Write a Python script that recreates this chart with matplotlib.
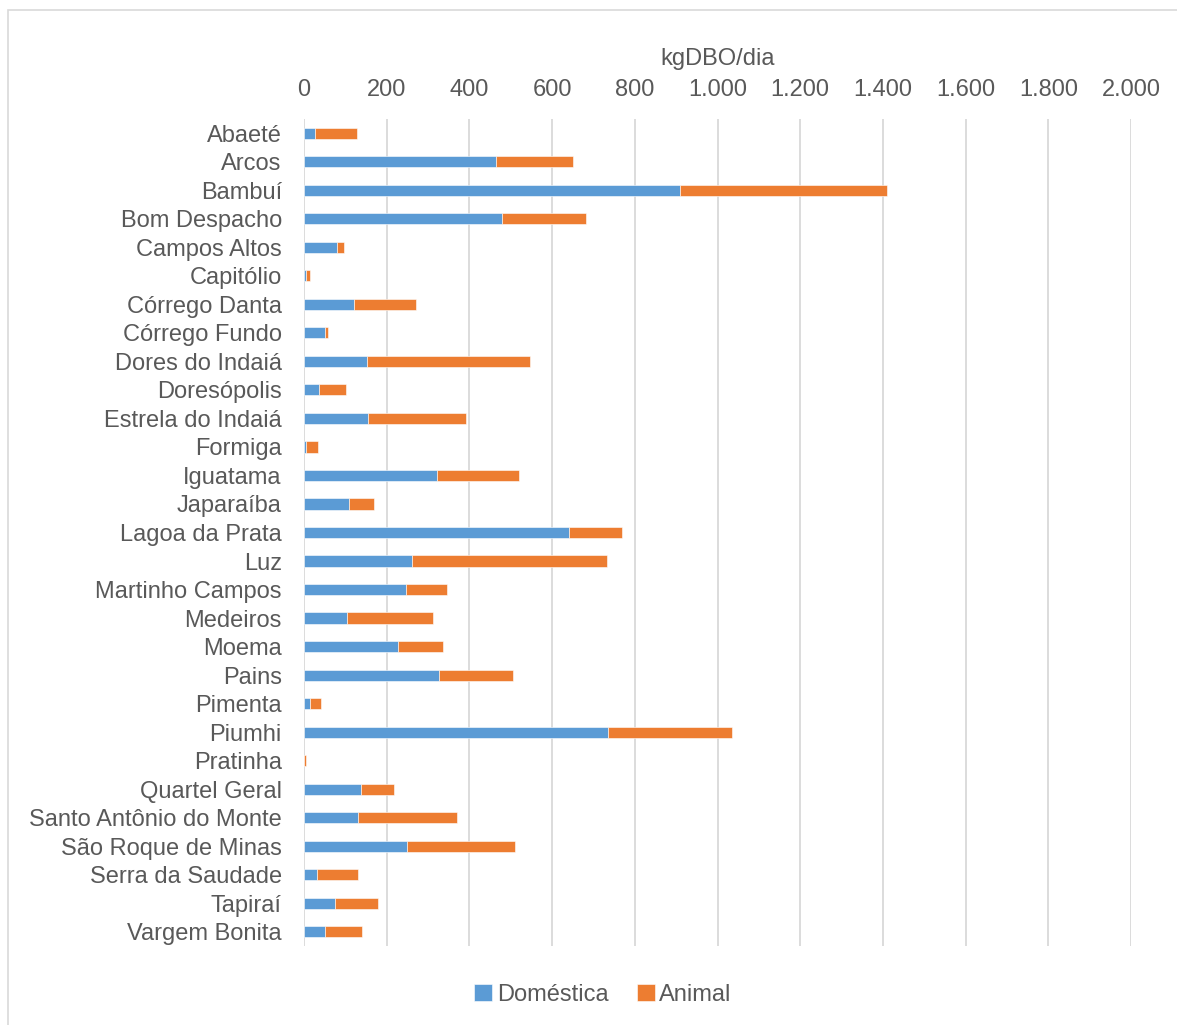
import numpy as np
import matplotlib.pyplot as plt
from matplotlib.patches import Rectangle

plt.rcParams['font.family'] = ['Liberation Sans', 'DejaVu Sans']

municipios = ['Abaeté', 'Arcos', 'Bambuí', 'Bom Despacho', 'Campos Altos',
              'Capitólio', 'Córrego Danta', 'Córrego Fundo', 'Dores do Indaiá',
              'Doresópolis', 'Estrela do Indaiá', 'Formiga', 'Iguatama',
              'Japaraíba', 'Lagoa da Prata', 'Luz', 'Martinho Campos',
              'Medeiros', 'Moema', 'Pains', 'Pimenta', 'Piumhi', 'Pratinha',
              'Quartel Geral', 'Santo Antônio do Monte', 'São Roque de Minas',
              'Serra da Saudade', 'Tapiraí', 'Vargem Bonita']

# carga de DBO (kg/dia)
domestica = [27, 464, 909, 479, 80, 6, 122, 51, 153, 37, 155, 5, 322,
             109, 641, 261, 247, 104, 227, 326, 14, 736, 1, 139, 131, 250,
             32, 75, 51]
animal = [102, 186, 502, 202, 16, 8, 150, 8, 394, 65, 237, 28, 198,
          60, 129, 471, 100, 207, 109, 179, 28, 298, 5, 79, 239, 260,
          99, 103, 90]

ticks = np.arange(0, 2001, 200)
tick_labels = ['0', '200', '400', '600', '800', '1.000', '1.200', '1.400',
               '1.600', '1.800', '2.000']

azul = '#5B9BD5'
laranja = '#ED7D31'
cinza_txt = '#595959'
cinza_grid = '#D9D9D9'

fig = plt.figure(figsize=(11.77, 10.25), dpi=100)
ax = fig.add_axes([304/1177, 1 - 946/1025, (1131 - 304)/1177, (946 - 119)/1025])

y = np.arange(len(municipios))
dom = np.array(domestica)
ani = np.array(animal)
ax.barh(y, dom, height=0.39, color=azul, edgecolor='white', linewidth=0.4,
        label='Doméstica', zorder=3)
ax.barh(y, ani, left=dom, height=0.39, color=laranja, edgecolor='white',
        linewidth=0.4, label='Animal', zorder=3)

ax.set_xlim(0, 2000)
ax.set_ylim(len(municipios) - 0.5, -0.5)
ax.set_yticks(y)
ax.set_yticklabels(municipios, fontsize=17, color=cinza_txt)
ax.xaxis.tick_top()
ax.xaxis.set_label_position('top')
ax.set_xticks(ticks)
ax.set_xticklabels(tick_labels, fontsize=17, color=cinza_txt)
ax.set_xlabel('kgDBO/dia', fontsize=17, color=cinza_txt, labelpad=10)
ax.tick_params(axis='both', length=0)
ax.tick_params(axis='y', pad=16)
ax.tick_params(axis='x', pad=13)
ax.grid(axis='x', color=cinza_grid, linewidth=1.3, zorder=0)
for s in ax.spines.values():
    s.set_visible(False)

ax.legend(loc='center', bbox_to_anchor=(603/1177, 1 - 995/1025), bbox_transform=fig.transFigure,
          ncol=2, frameon=False, fontsize=17, handlelength=0.75, handleheight=0.75,
          handletextpad=0.2, columnspacing=1.2, labelcolor=cinza_txt)

fig.patches.append(Rectangle((8/1177, -0.01), 1.0, 1 - 10/1025 + 0.01,
                             transform=fig.transFigure, fill=False,
                             edgecolor=cinza_grid, linewidth=1.2))

fig.savefig('out.png', dpi=100, facecolor='white')
